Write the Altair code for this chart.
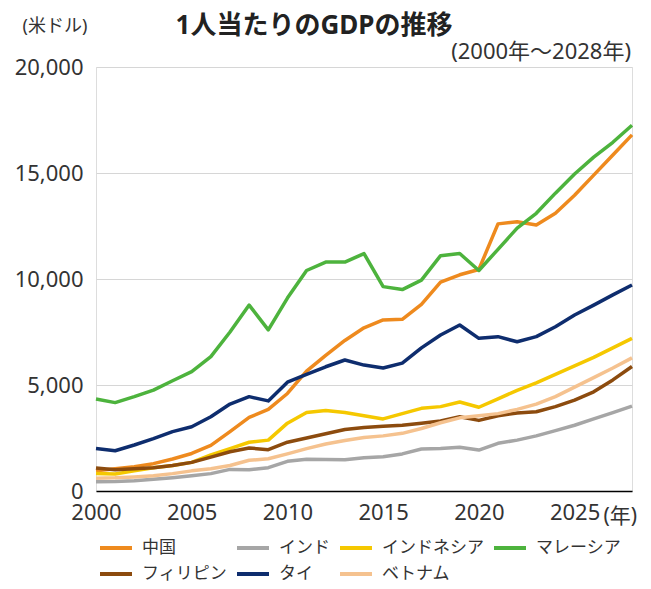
import altair as alt
import pandas as pd

years = list(range(2000, 2029))

china = [960, 1050, 1150, 1290, 1510, 1770, 2150, 2800, 3470, 3850, 4600, 5650, 6400, 7100, 7700,
         8070, 8100, 8800, 9850, 10200, 10450, 12600, 12700, 12550, 13100, 13950, 14900, 15850, 16800]
india = [440, 450, 480, 550, 630, 720, 820, 1020, 1000, 1100, 1400, 1500, 1480, 1470, 1570,
         1620, 1750, 1980, 2000, 2060, 1930, 2250, 2400, 2600, 2850, 3100, 3400, 3700, 4000]
indonesia = [830, 800, 950, 1100, 1200, 1350, 1700, 2000, 2300, 2400, 3200, 3700, 3800, 3700, 3550,
             3400, 3650, 3900, 3980, 4200, 3950, 4350, 4750, 5100, 5500, 5900, 6300, 6750, 7200]
malaysia = [4340, 4170, 4450, 4760, 5200, 5630, 6340, 7500, 8770, 7600, 9100, 10400, 10800, 10800, 11200,
            9640, 9500, 9950, 11100, 11200, 10400, 11400, 12400, 13100, 14050, 14950, 15750, 16450, 17250]
philippines = [1080, 1000, 1050, 1100, 1200, 1350, 1600, 1850, 2030, 1950, 2300, 2500, 2700, 2900, 3000,
               3050, 3100, 3200, 3300, 3500, 3330, 3550, 3680, 3740, 3980, 4290, 4680, 5240, 5870]
thailand = [2000, 1900, 2170, 2470, 2800, 3030, 3500, 4100, 4450, 4250, 5130, 5500, 5860, 6180, 5940,
            5800, 6030, 6750, 7360, 7830, 7200, 7280, 7040, 7280, 7750, 8300, 8770, 9250, 9720]
vietnam = [600, 620, 660, 720, 820, 950, 1050, 1200, 1450, 1520, 1750, 2000, 2220, 2380, 2520,
           2600, 2720, 2950, 3220, 3450, 3550, 3650, 3850, 4100, 4450, 4900, 5350, 5800, 6280]

countries = ["中国", "インド", "インドネシア", "マレーシア", "フィリピン", "タイ", "ベトナム"]
colors = ["#EE8A1E", "#A6A6A6", "#F5C800", "#4DB33D", "#8C4B0E", "#0E2D6E", "#F5C28F"]
series = [china, india, indonesia, malaysia, philippines, thailand, vietnam]

x_ticks = [2000, 2005, 2010, 2015, 2020, 2025]
y_ticks = [0, 5000, 10000, 15000, 20000]

rows = []
for name, vals in zip(countries, series):
    for yr, v in zip(years, vals):
        rows.append({"year": yr, "value": v, "country": name, "order": countries.index(name)})
df = pd.DataFrame(rows)

FONT = "Noto Sans, Noto Sans CJK JP, sans-serif"
W, H = 536, 424

lines = alt.Chart(df).mark_line(strokeWidth=3.5, strokeJoin="round").encode(
    x=alt.X("year:Q", scale=alt.Scale(domain=[2000, 2028], nice=False),
            axis=alt.Axis(values=x_ticks, format="d", title=None, grid=False, ticks=False,
                          domainColor="#000000", domainWidth=1.5, labelFontSize=22,
                          labelColor="#333333", labelPadding=11, labelFlush=False, labelFont=FONT)),
    y=alt.Y("value:Q", scale=alt.Scale(domain=[0, 20000], nice=False),
            axis=alt.Axis(values=y_ticks, format=",d", title=None, ticks=False, domain=False,
                          gridColor="#d6d6d6", gridWidth=1, labelFontSize=22, labelColor="#333333",
                          labelPadding=13, labelFont=FONT)),
    color=alt.Color("country:N", scale=alt.Scale(domain=countries, range=colors),
                    legend=alt.Legend(title=None, orient="none", legendX=2, legendY=463,
                                      columns=4, direction="horizontal", symbolType="stroke",
                                      symbolSize=1024, symbolStrokeWidth=4, labelFontSize=17,
                                      labelFont=FONT, labelColor="#333333", labelOffset=8,
                                      columnPadding=2, rowPadding=-9, padding=0,
                                      gridAlign="each", labelLimit=300)),
    order=alt.Order("order:Q"),
)

def note(text, x, y, size, align="center", weight="normal"):
    return alt.Chart(pd.DataFrame({"t": [text]})).mark_text(
        fontSize=size, font=FONT, align=align, baseline="middle", color="#333333" if weight == "normal" else "#222222",
        fontWeight=weight
    ).encode(text="t:N", x=alt.value(x), y=alt.value(y))

title = note("1人当たりのGDPの推移", 218, -41, 26, "center", "bold")
unit = note("(米ドル)", -41, -40, 18)
period = note("(2000年～2028年)", 535, -15, 22, "right")
nen = note("(年)", 541, 450, 21, "right")

chart = alt.layer(lines, title, unit, period, nen).properties(
    width=W, height=H,
    autosize=alt.AutoSizeParams(type="none"),
    padding={"left": 88, "top": 59, "right": 11, "bottom": 90},
).configure_view(stroke=None).configure(font=FONT)

chart.save("out.html", embed_options={"renderer": "svg", "actions": False})
